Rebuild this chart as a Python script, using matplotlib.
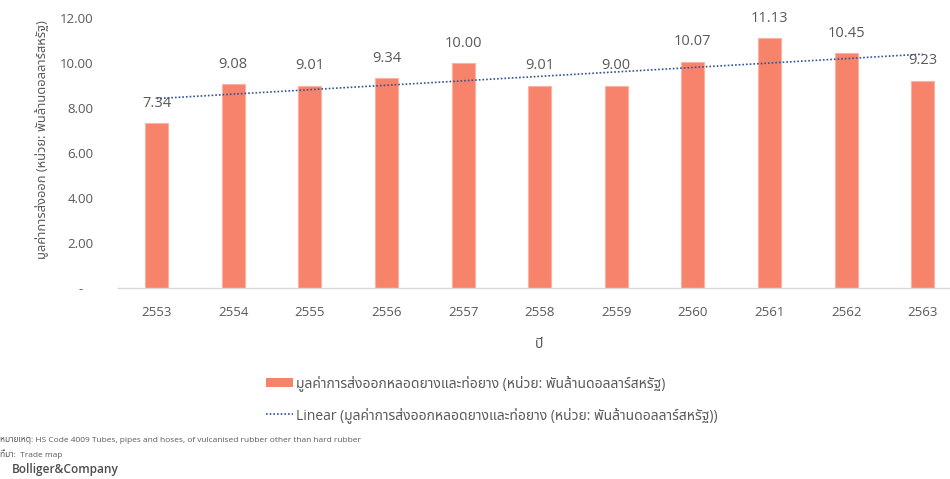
import matplotlib
matplotlib.use('Agg')
import matplotlib.pyplot as plt
from matplotlib.patches import Patch
from matplotlib.lines import Line2D
import numpy as np

# Thai glyphs are not in the Latin fonts, so fall back along the list.
plt.rcParams['font.family'] = ['Open Sans', 'Noto Sans Thai', 'Loma', 'Sarabun', 'DejaVu Sans']

years = ['2553', '2554', '2555', '2556', '2557', '2558', '2559', '2560', '2561', '2562', '2563']
export_values = [7.34, 9.08, 9.01, 9.34, 10.00, 9.01, 9.00, 10.07, 11.13, 10.45, 9.23]
y_ticks = [0, 2, 4, 6, 8, 10, 12]
y_tick_labels = ['-   ', '2.00', '4.00', '6.00', '8.00', '10.00', '12.00']

series_name = 'มูลค่าการส่งออกหลอดยางและท่อยาง (หน่วย: พันล้านดอลลาร์สหรัฐ)'
y_title = 'มูลค่าการส่งออก (หน่วย: พันล้านดอลลาร์สหรัฐ)'
x_title = 'ปี'
note = 'หมายเหตุ: HS Code 4009 Tubes, pipes and hoses, of vulcanised rubber other than hard rubber'
source = 'ที่มา:  Trade map'

bar_color = '#F7836A'
trend_color = '#2F5597'
text_color = '#595959'

fig = plt.figure(figsize=(9.5, 4.79), dpi=100)
ax = fig.add_axes([0.1246, 0.3987, 0.887, 0.5627])

x = np.arange(len(years))
ax.bar(x, export_values, width=0.30, color=bar_color, edgecolor='#FBB2A2', linewidth=0.8, zorder=2)

# value labels above each bar
for xi, v in zip(x, export_values):
    ax.annotate('%.2f' % v, (xi, v), xytext=(0, 9), textcoords='offset points',
                ha='center', va='bottom', fontsize=10.5, color=text_color)

# linear trend line (least squares fit of the series)
slope, intercept = np.polyfit(x, export_values, 1)
ax.plot(x, slope * x + intercept, color=trend_color, ls=(0, (1, 1.2)), lw=1.2, zorder=3)

ax.set_xlim(-0.5, len(years) - 0.5)
ax.set_ylim(0, 12)
ax.set_yticks(y_ticks)
ax.set_yticklabels(y_tick_labels)
ax.set_xticks(x)
ax.set_xticklabels(years)
ax.tick_params(axis='y', length=0, pad=18, labelsize=9.5, labelcolor=text_color)
ax.tick_params(axis='x', length=0, pad=13, labelsize=9.5, labelcolor=text_color)
for side in ['top', 'right', 'left']:
    ax.spines[side].set_visible(False)
ax.spines['bottom'].set_color('#D9D9D9')
ax.spines['bottom'].set_linewidth(1)

fig.text(42 / 950, 1 - 140 / 479, y_title, rotation=90, ha='center', va='center',
         fontsize=9.3, color=text_color)
fig.text(539 / 950, 1 - 345 / 479, x_title, ha='center', va='center', fontsize=10, color=text_color)

handles = [Patch(facecolor=bar_color, edgecolor='none'),
           Line2D([0], [0], color=trend_color, ls=(0, (1, 1.2)), lw=1.2)]
labels = [series_name, 'Linear (' + series_name + ')']
fig.legend(handles, labels, loc='upper left', bbox_to_anchor=(260 / 950, 1 - 370 / 479),
           frameon=False, fontsize=10, labelcolor=text_color, handlelength=2.0,
           handletextpad=0.2, labelspacing=1.1, borderaxespad=0)

fig.text(0.0, 1 - 440 / 479, note, ha='left', va='center', fontsize=6, color=text_color)
fig.text(0.0, 1 - 454 / 479, source, ha='left', va='center', fontsize=6, color=text_color)
fig.text(12 / 950, 1 - 469 / 479, 'Bolliger&Company', ha='left', va='center', fontsize=8.6,
         fontweight='semibold', color='#4D4D4D')

fig.savefig('out.png', dpi=100)
